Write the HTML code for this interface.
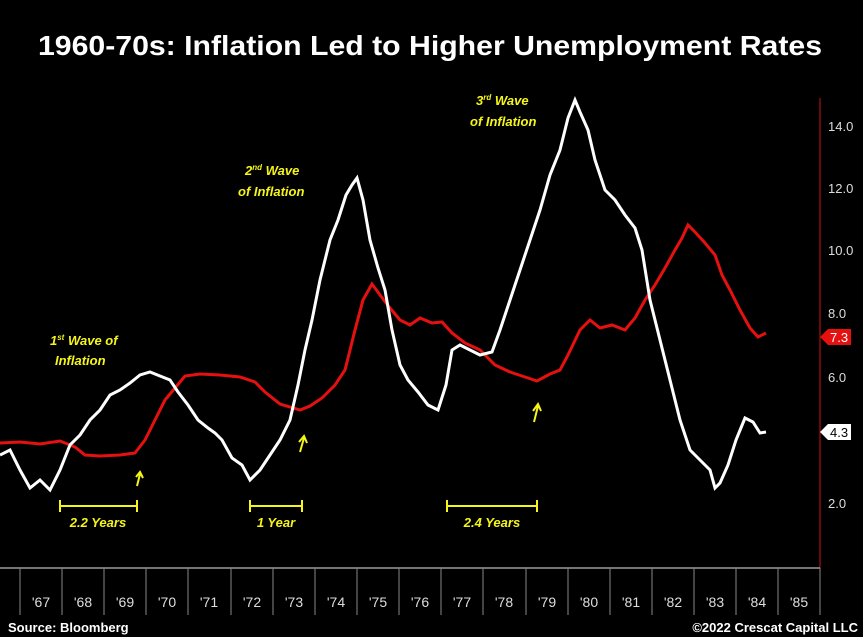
<!DOCTYPE html>
<html><head><meta charset="utf-8"><style>
body{margin:0;background:#000;}
svg{display:block;font-family:"Liberation Sans",sans-serif;}
</style></head><body>
<svg width="863" height="637" viewBox="0 0 863 637">
<rect width="863" height="637" fill="#000"/>
<text x="430" y="55" fill="#fff" font-size="28" font-weight="bold" text-anchor="middle" textLength="784" lengthAdjust="spacingAndGlyphs">1960-70s: Inflation Led to Higher Unemployment Rates</text>
<!-- right axis -->
<line x1="820" y1="98" x2="820" y2="568" stroke="#8a0c0c" stroke-width="1.5"/>
<g fill="#ddd" font-size="13">
<text x="828" y="131">14.0</text><text x="828" y="193">12.0</text><text x="828" y="255">10.0</text>
<text x="828" y="318">8.0</text><text x="828" y="382">6.0</text><text x="828" y="508">2.0</text>
</g>
<polygon points="820,337 828,329 851,329 851,345 828,345" fill="#e51010"/>
<text x="830" y="342" fill="#fff" font-size="13">7.3</text>
<polygon points="820,432 828,424 851,424 851,440 828,440" fill="#fff"/>
<text x="830" y="437" fill="#000" font-size="13">4.3</text>
<!-- bottom axis -->
<line x1="0" y1="568" x2="820" y2="568" stroke="#bbb" stroke-width="1.2"/>
<g stroke="#888" stroke-width="1">
<line x1="20" y1="568" x2="20" y2="615"/><line x1="62" y1="568" x2="62" y2="615"/><line x1="104" y1="568" x2="104" y2="615"/><line x1="146" y1="568" x2="146" y2="615"/><line x1="188" y1="568" x2="188" y2="615"/><line x1="231" y1="568" x2="231" y2="615"/><line x1="273" y1="568" x2="273" y2="615"/><line x1="315" y1="568" x2="315" y2="615"/><line x1="357" y1="568" x2="357" y2="615"/><line x1="399" y1="568" x2="399" y2="615"/><line x1="441" y1="568" x2="441" y2="615"/><line x1="483" y1="568" x2="483" y2="615"/><line x1="526" y1="568" x2="526" y2="615"/><line x1="568" y1="568" x2="568" y2="615"/><line x1="610" y1="568" x2="610" y2="615"/><line x1="652" y1="568" x2="652" y2="615"/><line x1="694" y1="568" x2="694" y2="615"/><line x1="736" y1="568" x2="736" y2="615"/><line x1="778" y1="568" x2="778" y2="615"/><line x1="820" y1="568" x2="820" y2="615"/>
</g>
<g fill="#ddd" font-size="14" text-anchor="middle">
<text x="41" y="607">'67</text><text x="83" y="607">'68</text><text x="125" y="607">'69</text><text x="167" y="607">'70</text><text x="209" y="607">'71</text><text x="252" y="607">'72</text><text x="294" y="607">'73</text><text x="336" y="607">'74</text><text x="378" y="607">'75</text><text x="420" y="607">'76</text><text x="462" y="607">'77</text><text x="504" y="607">'78</text><text x="547" y="607">'79</text><text x="589" y="607">'80</text><text x="631" y="607">'81</text><text x="673" y="607">'82</text><text x="715" y="607">'83</text><text x="757" y="607">'84</text><text x="799" y="607">'85</text>
</g>
<text x="8" y="632" fill="#fff" font-size="13" font-weight="bold">Source: Bloomberg</text>
<text x="858" y="632" fill="#fff" font-size="13" font-weight="bold" text-anchor="end">©2022 Crescat Capital LLC</text>
<!-- series -->
<polyline fill="none" stroke="#e51010" stroke-width="3" points="0,443 20,442 40,444 60,441 75,447 85,455 100,456 120,455 135,453 145,440 155,420 165,400 175,388 185,376 200,374 220,375 240,377 255,382 265,392 280,404 300,410 310,406 322,398 335,385 345,370 355,330 363,300 372,284 380,295 390,308 400,320 410,325 420,318 432,323 442,322 452,333 465,343 480,350 495,365 510,372 525,377 537,381 550,374 560,370 568,355 580,330 590,320 600,328 612,325 625,330 635,318 645,300 655,285 665,268 675,250 682,238 688,225 695,232 705,243 715,255 722,275 730,290 740,310 750,328 758,337 766,333"/>
<polyline fill="none" stroke="#fff" stroke-width="3" points="0,455 10,450 20,470 30,488 40,480 50,490 60,470 70,445 80,435 90,420 100,410 110,395 120,390 130,383 140,375 150,372 160,376 170,380 178,392 188,405 198,420 208,428 215,433 222,440 232,458 242,465 250,480 260,470 270,455 280,440 290,420 298,385 305,350 312,320 320,280 330,240 338,220 346,195 352,185 357,178 363,200 370,240 378,268 385,290 392,330 400,365 408,380 418,392 428,405 438,410 446,385 452,350 460,345 470,350 480,355 492,352 500,330 510,300 520,270 530,240 540,210 550,175 560,150 568,118 575,100 580,112 588,130 595,160 605,190 615,200 625,215 635,228 642,250 650,300 660,340 670,380 680,420 690,450 700,460 710,470 715,488 720,483 728,465 736,440 745,418 753,422 760,433 766,432"/>
<!-- annotations -->
<g fill="#f5f51a" font-size="13" font-weight="bold" font-style="italic">
<text x="50" y="345">1<tspan font-size="8" dy="-5">st</tspan><tspan dy="5"> Wave of</tspan></text>
<text x="55" y="365">Inflation</text>
<text x="245" y="175">2<tspan font-size="8" dy="-5">nd</tspan><tspan dy="5"> Wave</tspan></text>
<text x="238" y="196">of Inflation</text>
<text x="476" y="105">3<tspan font-size="8" dy="-5">rd</tspan><tspan dy="5"> Wave</tspan></text>
<text x="470" y="126">of Inflation</text>
<text x="98" y="527" text-anchor="middle">2.2 Years</text>
<text x="276" y="527" text-anchor="middle">1 Year</text>
<text x="492" y="527" text-anchor="middle">2.4 Years</text>
</g>
<g stroke="#f5f51a" stroke-width="2" fill="none">
<path d="M60,506 H137 M60,500 V512 M137,500 V512"/>
<path d="M250,506 H302 M250,500 V512 M302,500 V512"/>
<path d="M447,506 H537 M447,500 V512 M537,500 V512"/>
<path d="M137,486 L140,474 M136,477 L140,472 L143,478"/>
<path d="M300,452 L304,438 M299,442 L304,436 L307,443"/>
<path d="M534,422 L538,406 M533,411 L538,404 L541,411"/>
</g>
</svg>
</body></html>
